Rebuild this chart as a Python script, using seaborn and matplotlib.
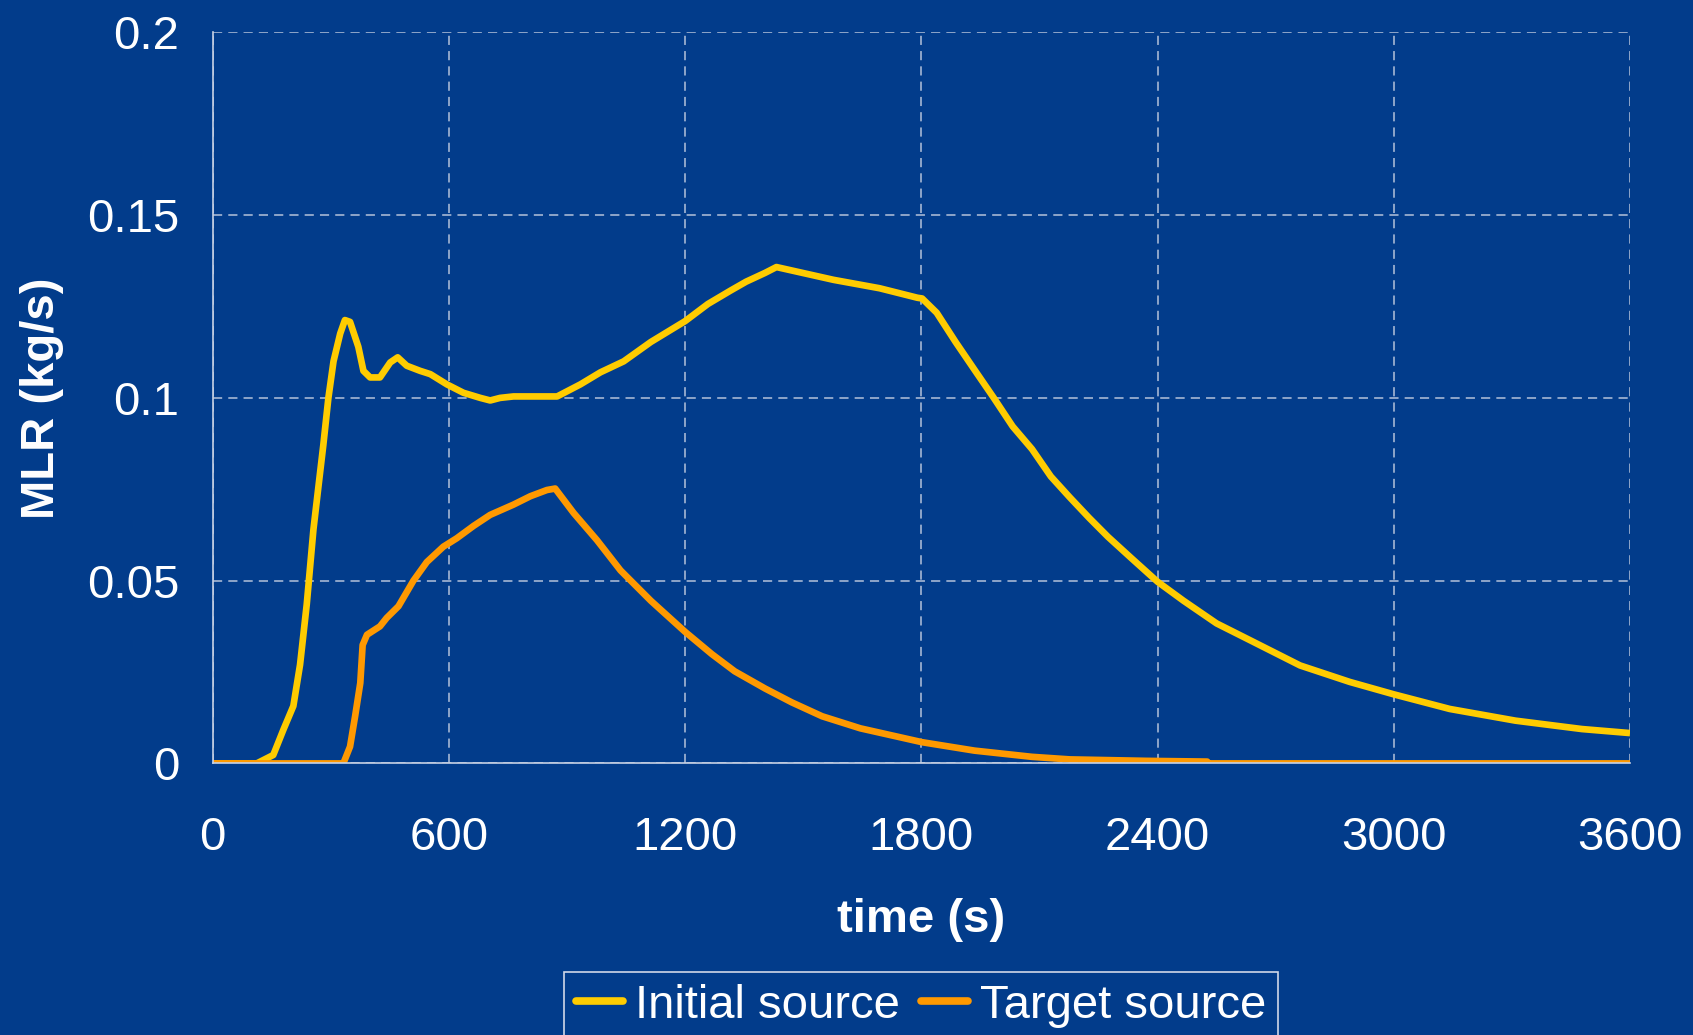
import numpy as np
import pandas as pd
import matplotlib
matplotlib.use("Agg")
import matplotlib.pyplot as plt
import seaborn as sns

# ---- data ----
t_initial = [0, 112, 154, 180, 205, 222, 239, 256, 269, 281, 294, 307, 324, 336, 349,
             370, 383, 400, 425, 451, 470, 493, 527, 553, 595, 637, 680, 705, 730, 764,
             875, 934, 985, 1044, 1113, 1200, 1258, 1316, 1355, 1403, 1432, 1461, 1577,
             1694, 1790, 1802, 1839, 1887, 1935, 1984, 2032, 2081, 2129, 2177, 2226, 2274,
             2332, 2400, 2466, 2550, 2635, 2762, 2888, 3000, 3142, 3309, 3478, 3600]
v_initial = [0, 0, 0.0023, 0.0093, 0.0157, 0.027, 0.0435, 0.064, 0.076, 0.087, 0.100,
             0.110, 0.1176, 0.1213, 0.1208, 0.114, 0.1074, 0.1056, 0.1056, 0.1097, 0.1111,
             0.1088, 0.1074, 0.1065, 0.1037, 0.1014, 0.1000, 0.0993, 0.1000, 0.1004, 0.1004,
             0.1037, 0.1070, 0.1100, 0.1153, 0.1210, 0.1257, 0.1294, 0.1318, 0.1342, 0.1358,
             0.1351, 0.1323, 0.1300, 0.1274, 0.1272, 0.1233, 0.1153, 0.1077, 0.1000, 0.0922,
             0.0860, 0.0785, 0.0728, 0.0672, 0.0620, 0.0563, 0.0497, 0.0445, 0.0383, 0.0337,
             0.0268, 0.0223, 0.0189, 0.0149, 0.0117, 0.0094, 0.0083]

t_target = [0, 332, 349, 362, 375, 381, 392, 425, 442, 472, 510, 544, 586, 620, 663,
            705, 764, 807, 849, 870, 917, 976, 1036, 1113, 1200, 1268, 1326, 1403, 1471,
            1548, 1645, 1802, 1935, 2081, 2177, 2371, 2526, 2530, 3600]
v_target = [0, 0, 0.0046, 0.013, 0.022, 0.0324, 0.0352, 0.0375, 0.0398, 0.043, 0.050,
            0.0551, 0.0593, 0.0616, 0.065, 0.068, 0.0708, 0.0731, 0.0748, 0.0752, 0.0685,
            0.0611, 0.0528, 0.0445, 0.0360, 0.0299, 0.0252, 0.0205, 0.0167, 0.0129, 0.0096,
            0.0058, 0.0035, 0.0018, 0.0011, 0.0007, 0.0005, 0, 0]

series_names = ["Initial source", "Target source"]
x_ticks = [0, 600, 1200, 1800, 2400, 3000, 3600]
y_ticks = [0, 0.05, 0.1, 0.15, 0.2]
y_tick_labels = ["0", "0.05", "0.1", "0.15", "0.2"]

# ---- style ----
BG = "#023C8B"
FG = "white"
GRID = "#B4C2DA"
palette = {"Initial source": "#FFCC00", "Target source": "#FF9900"}

sns.set_style("white")
plt.rcParams["font.family"] = ["Liberation Sans", "DejaVu Sans"]

df = pd.concat([
    pd.DataFrame({"t": t_initial, "v": v_initial, "series": series_names[0]}),
    pd.DataFrame({"t": t_target, "v": v_target, "series": series_names[1]}),
], ignore_index=True)

fig = plt.figure(figsize=(16.93, 10.35), dpi=100, facecolor=BG)
ax = fig.add_axes([0.1256, 0.2624, 0.9628 - 0.1256, 0.9687 - 0.2624])
ax.set_facecolor(BG)

sns.lineplot(data=df, x="t", y="v", hue="series", palette=palette,
             hue_order=series_names, linewidth=4.8, ax=ax, sort=False,
             estimator=None)
for line in ax.get_lines():
    line.set_solid_joinstyle("round")
    line.set_solid_capstyle("butt")

ax.set_xlim(0, 3600)
ax.set_ylim(0, 0.2)
ax.set_xticks(x_ticks)
ax.set_xticklabels([str(x) for x in x_ticks])
ax.set_yticks(y_ticks)
ax.set_yticklabels(y_tick_labels)

ax.grid(True, color=GRID, linestyle=(0, (6, 4)), linewidth=1.1)
ax.set_axisbelow(True)
for side in ["top", "right"]:
    ax.spines[side].set_visible(False)
for side in ["left", "bottom"]:
    ax.spines[side].set_color("#C8D2E4")
    ax.spines[side].set_linewidth(1.2)

ax.tick_params(axis="both", colors="#C8D2E4", labelcolor=FG, labelsize=34,
               length=10, width=1.2, direction="out")
ax.tick_params(axis="x", pad=28)
ax.tick_params(axis="y", pad=14)

ax.set_xlabel("time (s)", fontsize=34, fontweight="bold", color=FG)
ax.set_ylabel("MLR (kg/s)", fontsize=34, fontweight="bold", color=FG)
ax.xaxis.set_label_coords(0.5, -0.184)
ax.yaxis.set_label_coords(-0.105, 0.5)

leg = ax.legend(loc="upper center", bbox_to_anchor=(0.544, 0.0609),
                bbox_transform=fig.transFigure, ncol=2, fontsize=34,
                frameon=True, fancybox=False, handlelength=1.0,
                handletextpad=0.25, columnspacing=0.45, borderpad=0.25,
                borderaxespad=0)
leg.get_frame().set_facecolor(BG)
leg.get_frame().set_edgecolor("#D0D8E8")
leg.get_frame().set_linewidth(1.2)
leg.get_frame().set_alpha(1)
for txt in leg.get_texts():
    txt.set_color(FG)
for line in leg.get_lines():
    line.set_linewidth(5.5)
    line.set_solid_capstyle("round")

fig.savefig("out.png", dpi=100, facecolor=BG)
